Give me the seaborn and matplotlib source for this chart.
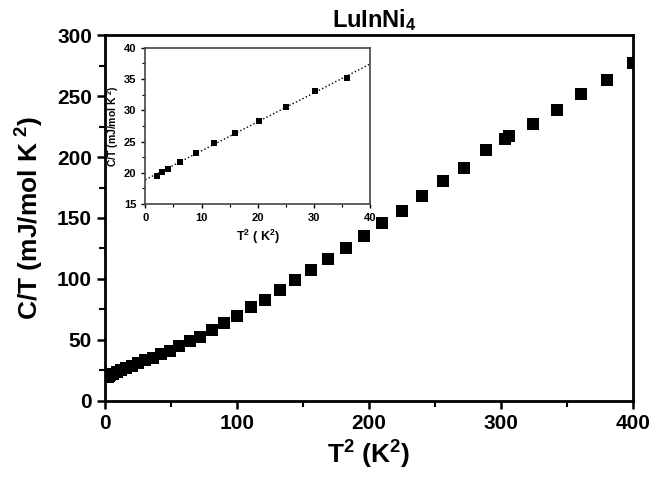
import numpy as np
import pandas as pd
import seaborn as sns
import matplotlib.pyplot as plt
from matplotlib.ticker import MultipleLocator

# ---------------------------------------------------------
# DATA
# ---------------------------------------------------------
t2_main = [2.1, 3, 4, 6.25, 9, 12.25, 16, 20.25, 25, 30.25, 36, 42.25, 49, 56.25,
           64, 72.25, 81, 90.25, 100, 110.25, 121, 132.25, 144, 156.25, 169,
           182.25, 196, 210.25, 225, 240.25, 256, 272.25, 289, 303.5, 306.25,
           324, 342.25, 361, 380.25, 400]
ct_main = [19.5, 20.1, 20.6, 21.7, 23.1, 24.7, 26.4, 28.3, 30.6, 33.1, 35.2, 38.3,
           41.0, 44.6, 48.7, 52.5, 58.0, 63.4, 69.5, 76.6, 82.6, 91.0, 99.0,
           107.5, 116.5, 125.0, 135.0, 145.5, 156.0, 168.0, 180.0, 191.0, 206.0,
           215.0, 217.0, 227.5, 238.5, 252.0, 263.0, 277.5]

t2_inset = [2.1, 3, 4, 6.25, 9, 12.25, 16, 20.25, 25, 30.25, 36]
ct_inset = [19.5, 20.1, 20.6, 21.7, 23.15, 24.7, 26.4, 28.3, 30.6, 33.1, 35.2]

fit_x = [0, 40]
fit_y = [18.9, 37.4]

main_df = pd.DataFrame({"T2": t2_main, "CT": ct_main})
inset_df = pd.DataFrame({"T2": t2_inset, "CT": ct_inset})
fit_df = pd.DataFrame({"T2": fit_x, "CT": fit_y})

# ---------------------------------------------------------
# STYLE
# ---------------------------------------------------------
sns.set_style("ticks")
plt.rcParams['font.family'] = ['Liberation Sans', 'DejaVu Sans']
plt.rcParams['font.weight'] = 'bold'
plt.rcParams['mathtext.fontset'] = 'custom'
plt.rcParams['mathtext.rm'] = 'Liberation Sans:bold'
plt.rcParams['mathtext.bf'] = 'Liberation Sans:bold'
plt.rcParams['mathtext.default'] = 'bf'
for key in ['text.color', 'axes.labelcolor', 'xtick.color', 'ytick.color', 'axes.edgecolor']:
    plt.rcParams[key] = 'black'

fig = plt.figure(figsize=(6.49, 4.78), dpi=100)

# ---------------------------------------------------------
# MAIN PLOT
# ---------------------------------------------------------
ax = fig.add_axes([0.162, 0.162, 0.813, 0.764])
sns.scatterplot(data=main_df, x="T2", y="CT", marker="s", color="black",
                s=72, linewidth=0, ax=ax)
ax.set_xlim(0, 400)
ax.set_ylim(0, 300)
ax.xaxis.set_major_locator(MultipleLocator(100))
ax.xaxis.set_minor_locator(MultipleLocator(50))
ax.yaxis.set_major_locator(MultipleLocator(50))
ax.yaxis.set_minor_locator(MultipleLocator(25))
ax.tick_params(which="major", direction="out", length=6, width=1.8, labelsize=15)
ax.tick_params(which="minor", direction="out", length=4, width=1.5)
for sp in ax.spines.values():
    sp.set_linewidth(2)
ax.set_xlabel(r"T$^2$ (K$^2$)", fontsize=19, fontweight="bold", labelpad=4)
ax.set_ylabel(r"C/T (mJ/mol K$^{\ 2}$)", fontsize=19, fontweight="bold", labelpad=8)
ax.set_title(r"LuInNi$_4$", fontsize=17, fontweight="bold", pad=6, x=0.51)

# ---------------------------------------------------------
# INSET
# ---------------------------------------------------------
ins = fig.add_axes([0.224, 0.573, 0.346, 0.327])
sns.lineplot(data=fit_df, x="T2", y="CT", color="black", linestyle=":",
             linewidth=1.0, ax=ins)
sns.scatterplot(data=inset_df, x="T2", y="CT", marker="s", color="black",
                s=22, linewidth=0, ax=ins)
ins.set_xlim(0, 40)
ins.set_ylim(15, 40)
ins.xaxis.set_major_locator(MultipleLocator(10))
ins.xaxis.set_minor_locator(MultipleLocator(5))
ins.yaxis.set_major_locator(MultipleLocator(5))
ins.yaxis.set_minor_locator(MultipleLocator(2.5))
ins.tick_params(which="major", direction="out", length=3, width=1, labelsize=8)
ins.tick_params(which="minor", direction="out", length=2, width=0.8)
for sp in ins.spines.values():
    sp.set_linewidth(1.2)
    sp.set_color("#444444")
ins.set_xlabel(r"T$^2$ ( K$^2$)", fontsize=9, fontweight="bold", labelpad=3)
ins.set_ylabel(r"C/T (mJ/mol K$^{\ 2}$)", fontsize=7.5, fontweight="bold", labelpad=2)

fig.savefig("out.png", dpi=100)
